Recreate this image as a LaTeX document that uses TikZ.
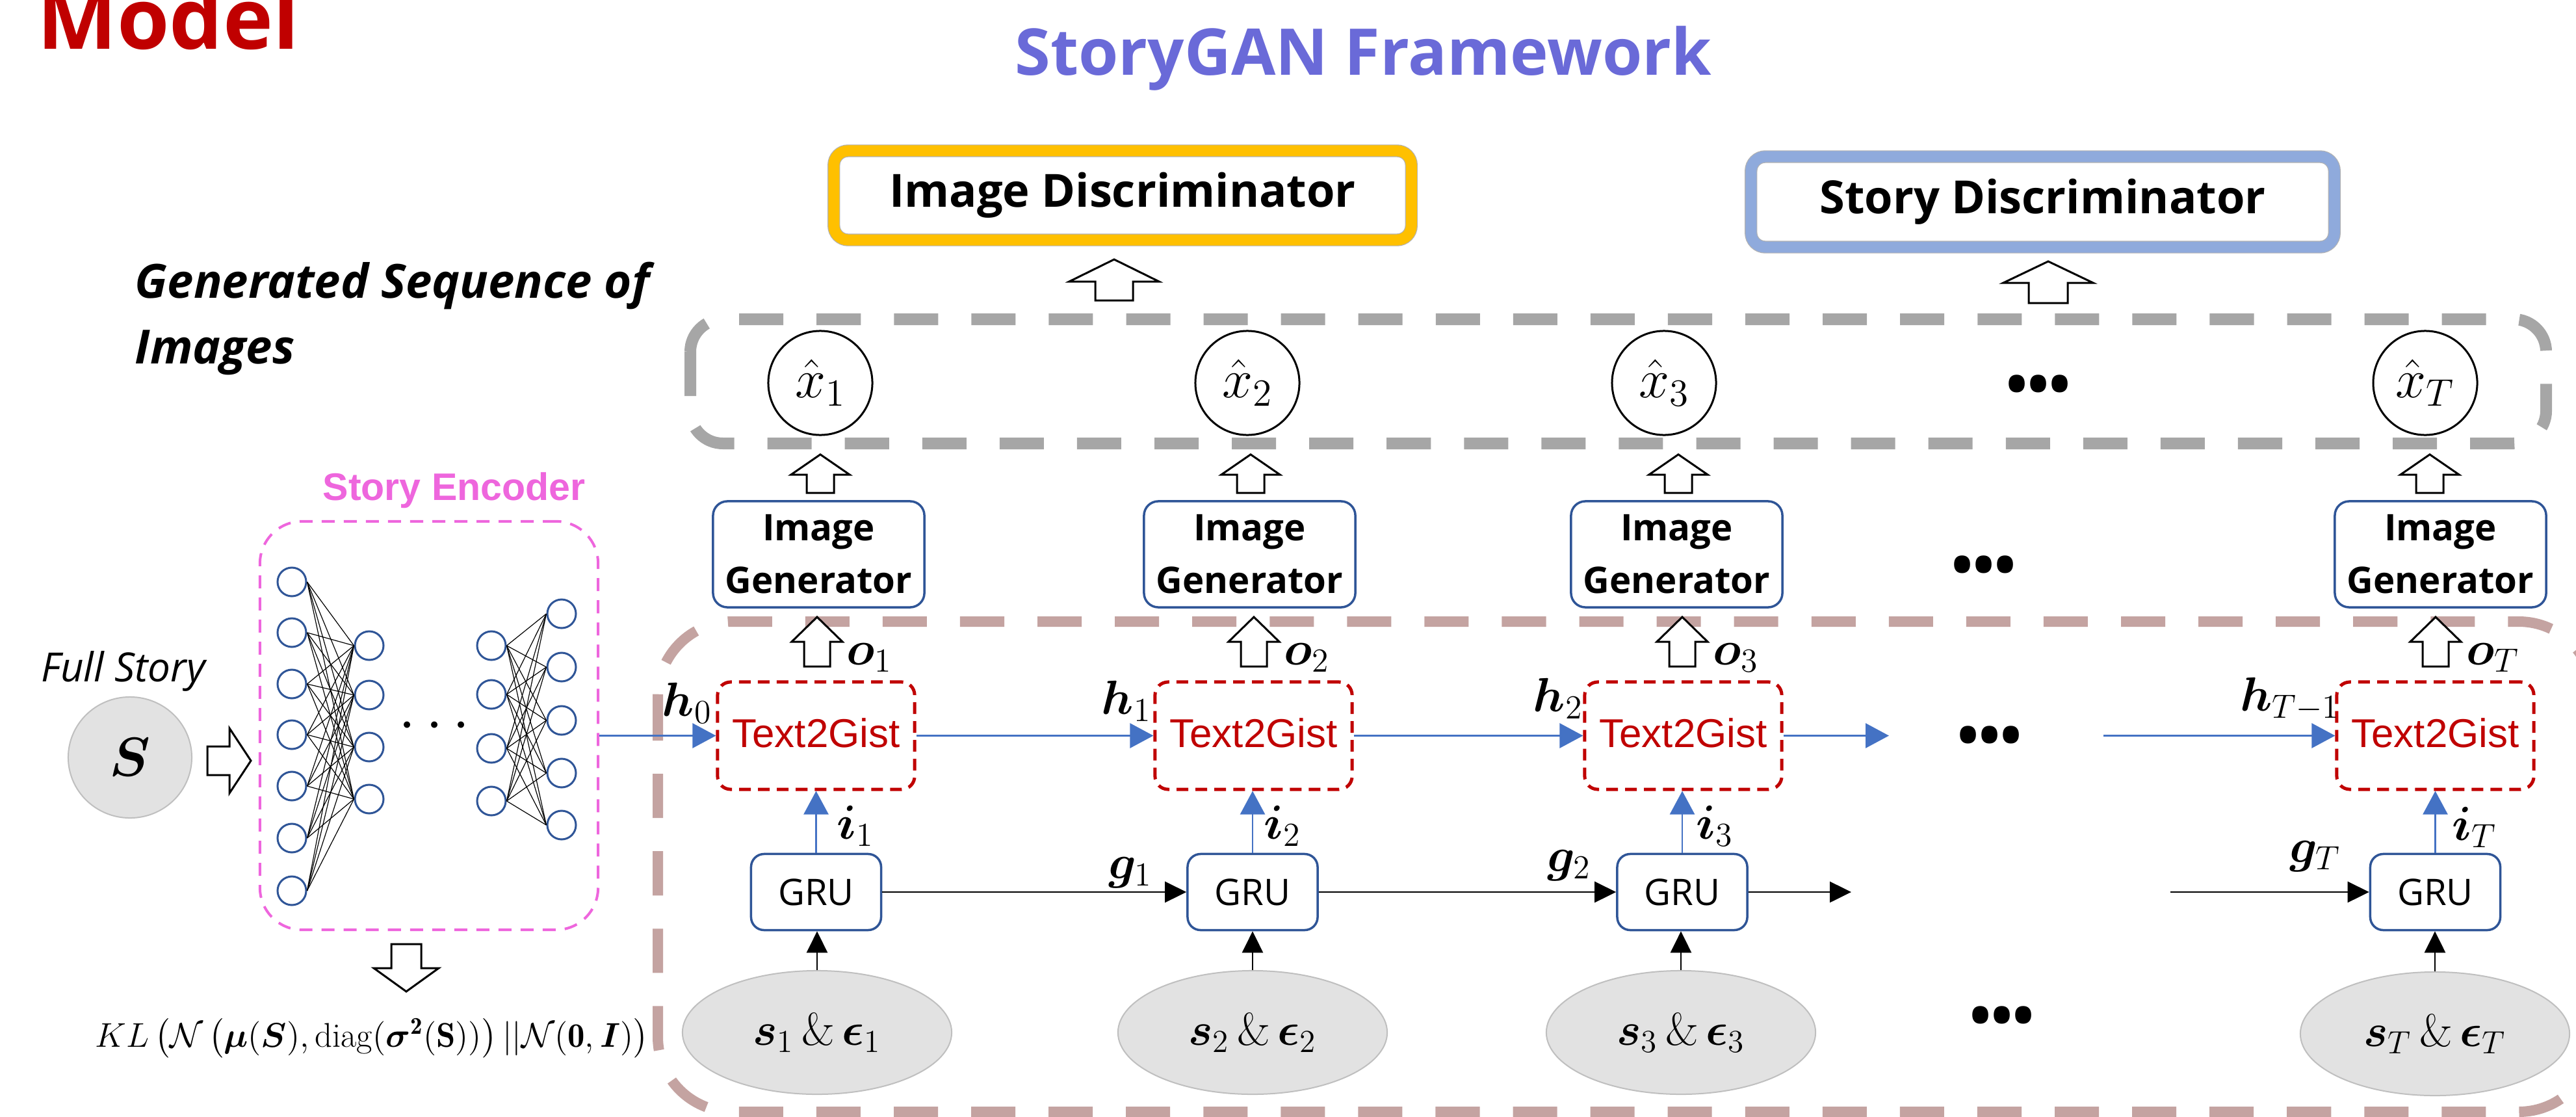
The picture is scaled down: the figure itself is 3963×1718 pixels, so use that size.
\RequirePackage{fix-cm}
\documentclass[tikz,border=0pt]{standalone}
\usepackage{amsmath,bm}
\usepackage{fontspec}
\usetikzlibrary{arrows.meta,calc,shapes.geometric}

\newfontfamily\osans{Open Sans}
\newfontfamily\lsans{Liberation Sans}

\definecolor{modelred}{RGB}{192,0,0}
\definecolor{titleblue}{RGB}{106,106,216}
\definecolor{discyellow}{RGB}{255,192,0}
\definecolor{discblue}{RGB}{143,170,220}
\definecolor{seqgray}{RGB}{166,166,166}
\definecolor{rnnbrown}{RGB}{196,163,161}
\definecolor{encpink}{RGB}{238,102,221}
\definecolor{boxblue}{RGB}{47,85,151}
\definecolor{flowblue}{RGB}{68,114,196}
\definecolor{gistred}{RGB}{192,0,0}
\definecolor{inputgray}{RGB}{226,226,226}
\definecolor{inputedge}{RGB}{191,191,191}

\newcommand\fsz[2]{\fontsize{#1}{#2}\selectfont}

\tikzset{
  disc/.style={draw=black!30, line width=0.012cm, double distance=0.17cm,
    rounded corners=0.22cm, fill=white, inner sep=0,
    font=\osans\bfseries\fsz{20}{24}},
  genbox/.style={draw=boxblue, line width=0.035cm, rounded corners=0.22cm,
    fill=white, minimum width=3.25cm, minimum height=1.63cm, inner sep=0,
    align=center, font=\osans\bfseries\fsz{16}{23}},
  grubox/.style={draw=boxblue, line width=0.035cm, rounded corners=0.2cm,
    fill=white, minimum width=2.0cm, minimum height=1.17cm, inner sep=0,
    font=\osans\fsz{16}{19}},
  gistbox/.style={draw=gistred, line width=0.05cm,
    dash pattern=on 0.18cm off 0.11cm, rounded corners=0.2cm, fill=white,
    minimum width=3.03cm, minimum height=1.65cm, inner sep=0,
    text=gistred, font=\lsans\fsz{17.6}{20}},
  outcircle/.style={circle, draw, line width=0.03cm, minimum size=1.6cm,
    inner sep=0, font=\fsz{24}{26}},
  inellipse/.style={ellipse, draw=inputedge, line width=0.02cm,
    fill=inputgray, minimum width=4.14cm, minimum height=1.9cm, inner sep=0,
    font=\fsz{20}{22}},
  neuron/.style={circle, draw=boxblue, line width=0.03cm,
    minimum size=0.44cm, inner sep=0},
  nnline/.style={draw=black, line width=0.012cm},
  flow/.style={draw=flowblue, line width=0.025cm,
    -{Triangle[length=0.36cm,width=0.38cm]}},
  state/.style={draw=black, line width=0.025cm,
    -{Triangle[length=0.33cm,width=0.32cm]}},
  lab/.style={inner sep=0, font=\fsz{21}{23}},
  moredots/.style={inner sep=0, font=\osans\bfseries\fsz{25}{26}},
  pics/blockarrow/.style args={#1/#2/#3/#4}{code={
    \draw[line width=0.03cm, fill=white, miter limit=10]
      (-#4,0) -- (-#4,{-(#1-#2)}) -- (-#3,{-(#1-#2)}) -- (0,-#1)
      -- (#3,{-(#1-#2)}) -- (#4,{-(#1-#2)}) -- (#4,0) -- cycle;
  }},
}

\begin{document}
\begin{tikzpicture}[x=0.01cm,y=-0.01cm]
\useasboundingbox (0,0) rectangle (3963,1718);

% ---------- headings ----------
\node[anchor=base west, inner sep=0, text=modelred,
  font=\osans\bfseries\fsz{37}{40}] (model) at (57,75) {Model};
\node[anchor=base west, inner sep=0, text=titleblue,
  font=\osans\bfseries\fsz{28.2}{32}] (title) at (1561,115) {StoryGAN Framework};

% ---------- discriminators ----------
\node[disc, double=discyellow, minimum width=8.88cm, minimum height=1.37cm]
  (imgdisc) at (1727,300.5) {Image Discriminator};
\node[disc, double=discblue, minimum width=8.97cm, minimum height=1.39cm]
  (storydisc) at (3142.5,310.5) {Story Discriminator};
\pic at (1714,462) {blockarrow=63/34/69/29};
\pic at (3151,466) {blockarrow=64/33/69/30};

% ---------- recurrent part (dashed frame) ----------
\draw[rnnbrown, line width=0.16cm, dash pattern=on 0.68cm off 0.51cm,
  rounded corners=1.15cm] (1012,956) rectangle (3990,1710);

% ---------- generated sequence (dashed frame) ----------
\draw[seqgray, line width=0.18cm, dash pattern=on 0.68cm off 0.51cm,
  rounded corners=0.5cm] (1062,491) rectangle (3917,682);
\node[anchor=base west, align=left, inner sep=0,
  font=\osans\bfseries\itshape\fsz{20.6}{28.7}] (seqlabel) at (207,559)
  {Generated Sequence of\\Images};

% outputs
\node[outcircle] (x1) at (1262,589) {$\hat{x}_1$};
\node[outcircle] (x2) at (1919,589) {$\hat{x}_2$};
\node[outcircle] (x3) at (2560,589) {$\hat{x}_3$};
\node[outcircle] (xT) at (3731,589) {$\hat{x}_T$};
\node[moredots] (dotsx) at (3136,600) {•••};

% image generators
\node[genbox] (gen1) at (1259.5,852.5) {Image\\Generator};
\node[genbox] (gen2) at (1922.5,852.5) {Image\\Generator};
\node[genbox] (gen3) at (2579.5,852.5) {Image\\Generator};
\node[genbox] (genT) at (3754.5,852.5) {Image\\Generator};
\node[moredots] (dotsgen) at (3052,878) {•••};

\pic at (1262,758) {blockarrow=59/31/45/21};
\pic at (1924,758) {blockarrow=59/31/45/21};
\pic at (2582,758) {blockarrow=59/31/45/21};
\pic at (3738,758) {blockarrow=59/31/45/21};

% Text2Gist cells
\node[gistbox] (t1) at (1255.5,1131.5) {\raisebox{0.08cm}{Text2Gist}};
\node[gistbox] (t2) at (1928.5,1131.5) {\raisebox{0.08cm}{Text2Gist}};
\node[gistbox] (t3) at (2589.5,1131.5) {\raisebox{0.08cm}{Text2Gist}};
\node[gistbox] (tT) at (3746.5,1131.5) {\raisebox{0.08cm}{Text2Gist}};
\node[moredots] (dotsgist) at (3061,1140) {•••};

\pic at (1257,1025) {blockarrow=76/38/39/20};
\pic at (1929,1025) {blockarrow=76/38/39/20};
\pic at (2588,1025) {blockarrow=76/38/39/20};
\pic at (3747,1025) {blockarrow=76/38/39/20};
\node[lab, anchor=base west] (lo1) at (1302,1022) {$\bm{o}_1$};
\node[lab, anchor=base west] (lo2) at (1975,1022) {$\bm{o}_2$};
\node[lab, anchor=base west] (lo3) at (2635,1022) {$\bm{o}_3$};
\node[lab, anchor=base west] (loT) at (3794,1022) {$\bm{o}_T$};

% GRU cells
\node[grubox] (g1) at (1255.5,1372) {\raisebox{-0.08cm}{GRU}};
\node[grubox] (g2) at (1927,1372) {\raisebox{-0.08cm}{GRU}};
\node[grubox] (g3) at (2588,1372) {\raisebox{-0.08cm}{GRU}};
\node[grubox] (gT) at (3746.5,1372) {\raisebox{-0.08cm}{GRU}};

% inputs
\node[inellipse] (s1) at (1257,1588) {$\bm{s}_1\,\bm{\&}\,\bm{\epsilon}_1$};
\node[inellipse] (s2) at (1927,1588) {$\bm{s}_2\,\bm{\&}\,\bm{\epsilon}_2$};
\node[inellipse] (s3) at (2586,1588) {$\bm{s}_3\,\bm{\&}\,\bm{\epsilon}_3$};
\node[inellipse] (sT) at (3746,1590) {$\bm{s}_T\,\bm{\&}\,\bm{\epsilon}_T$};
\node[moredots] (dotsin) at (3080,1571) {•••};

% inputs into GRUs
\draw[state] (s1.north) -- (s1.north |- g1.south);
\draw[state] (s2.north) -- (s2.north |- g2.south);
\draw[state] (s3.north) -- (s3.north |- g3.south);
\draw[state] (sT.north) -- (sT.north |- gT.south);

% GRU outputs into Text2Gist
\draw[flow] (g1.north) -- (g1.north |- t1.south);
\draw[flow] (g2.north) -- (g2.north |- t2.south);
\draw[flow] (g3.north) -- (g3.north |- t3.south);
\draw[flow] (gT.north) -- (gT.north |- tT.south);
\node[lab, anchor=base west] (li1) at (1287,1290) {$\bm{i}_1$};
\node[lab, anchor=base west] (li2) at (1944,1290) {$\bm{i}_2$};
\node[lab, anchor=base west] (li3) at (2609,1290) {$\bm{i}_3$};
\node[lab, anchor=base west] (liT) at (3772,1292) {$\bm{i}_T$};

% GRU chain
\coordinate (g3out) at (2848,1372);
\coordinate (gTin) at (3339,1372);
\draw[state] (g1.east) -- (g2.west);
\draw[state] (g2.east) -- (g3.west);
\draw[state] (g3.east) -- (g3out);
\draw[state] (gTin) -- (gT.west);
\node[lab, anchor=base west] (lg1) at (1705,1351) {$\bm{g}_1$};
\node[lab, anchor=base west] (lg2) at (2380,1340) {$\bm{g}_2$};
\node[lab, anchor=base west] (lgT) at (3522,1326) {$\bm{g}_T$};

% Text2Gist chain
\coordinate (t3out) at (2906,1131.5);
\coordinate (tTin) at (3236,1131.5);
\draw[flow] (t1.east) -- (t2.west);
\draw[flow] (t2.east) -- (t3.west);
\draw[flow] (t3.east) -- (t3out);
\draw[flow] (tTin) -- (tT.west);
\node[lab, anchor=base west] (lh0) at (1018,1101) {$\bm{h}_0$};
\node[lab, anchor=base west] (lh1) at (1694,1098) {$\bm{h}_1$};
\node[lab, anchor=base west] (lh2) at (2358,1094) {$\bm{h}_2$};
\node[lab, anchor=base east] (lhT) at (3600,1093) {$\bm{h}_{T-1}$};

% ---------- story encoder ----------
\node[anchor=base west, inner sep=0, text=encpink,
  font=\lsans\bfseries\fsz{16.8}{19}] (enclabel) at (496,769) {Story Encoder};
\node[draw=encpink, line width=0.04cm, dash pattern=on 0.2cm off 0.14cm,
  rounded corners=0.65cm, minimum width=5.2cm, minimum height=6.28cm,
  inner sep=0] (enc) at (660,1116) {};

\foreach \i/\y in {1/895,2/973,3/1052,4/1130,5/1209,6/1289,7/1370}
  \node[neuron] (na\i) at (449,\y) {};
\foreach \i/\y in {1/993,2/1069,3/1149,4/1229}
  \node[neuron] (nb\i) at (568,\y) {};
\foreach \i/\y in {1/993,2/1068,3/1151,4/1232}
  \node[neuron] (nc\i) at (756,\y) {};
\foreach \i/\y in {1/944,2/1026,3/1108,4/1189,5/1269}
  \node[neuron] (nd\i) at (864,\y) {};
\foreach \i in {1,...,7}
  \foreach \j in {1,...,4}
    \draw[nnline] (na\i.east) -- (nb\j.west);
\foreach \i in {1,...,4}
  \foreach \j in {1,...,5}
    \draw[nnline] (nc\i.east) -- (nd\j.west);
\node[inner sep=0, font=\fsz{26.7}{28}] (encdots) at (676,1118) {$\cdots$};

\draw[flow] (enc.east |- t1.west) -- (t1.west);

% full story input
\node[anchor=base west, inner sep=0, font=\osans\itshape\fsz{17.6}{20}]
  (storylabel) at (63,1048) {Full Story};
\node[ellipse, draw=inputedge, line width=0.02cm, fill=inputgray,
  minimum width=1.9cm, minimum height=1.86cm, inner sep=0,
  font=\fsz{24}{26}] (story) at (200,1165) {$\bm{S}$};
\pic[rotate=-90] at (319,1170) {blockarrow=67/33/50/22};

% KL regulariser
\pic[rotate=180] at (625,1452) {blockarrow=73/36/50/23};
\node[anchor=base, inner sep=0, font=\fsz{15}{18}] (kl) at (572,1610)
  {$KL\left(\mathcal{N}\left(\bm{\mu}(\bm{S}),\mathrm{diag}(\bm{\sigma}^{\mathbf{2}}(\mathbf{S}))\right)||\mathcal{N}(\mathbf{0},\bm{I})\right)$};

\end{tikzpicture}
\end{document}
